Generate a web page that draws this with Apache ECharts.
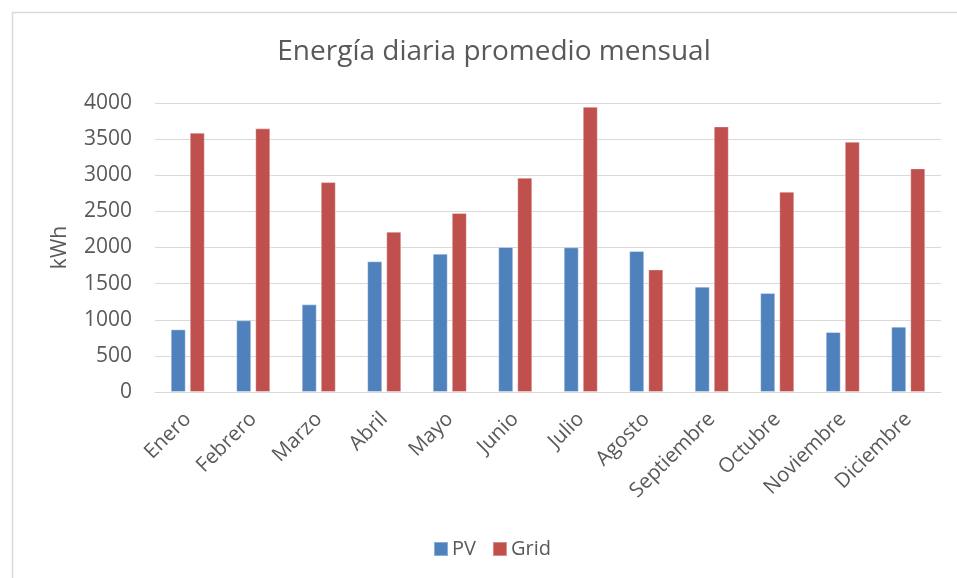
<!DOCTYPE html>
<html>
<head>
<meta charset="utf-8">
<script src="https://cdn.jsdelivr.net/npm/echarts@6/dist/echarts.min.js"></script>
<style>
html,body{margin:0;padding:0;background:#fff;}
#c{width:957px;height:578px;}
</style>
</head>
<body>
<div id="c"></div>
<script>
const categories = ['Enero','Febrero','Marzo','Abril','Mayo','Junio','Julio','Agosto','Septiembre','Octubre','Noviembre','Diciembre'];
const pvValues = [867, 992, 1213, 1808, 1914, 2007, 2002, 1951, 1458, 1370, 830, 904];
const gridValues = [3589, 3649, 2906, 2219, 2477, 2966, 3948, 1697, 3676, 2772, 3464, 3095];
const yTicks = [0, 500, 1000, 1500, 2000, 2500, 3000, 3500, 4000];
const titleText = 'Energía diaria promedio mensual';
const yName = 'kWh';

const FONT = '"Open Sans", "Noto Sans", sans-serif';
const TXT = '#595959';
const chart = echarts.init(document.getElementById('c'), null, {renderer: 'canvas'});
chart.setOption({
  animation: false,
  backgroundColor: '#ffffff',
  graphic: [{
    type: 'rect', left: 10, top: 10, silent: true,
    shape: {width: 1000, height: 1000},
    style: {fill: 'none', stroke: '#d9d9d9', lineWidth: 1.5}
  }],
  title: {
    text: titleText, left: 489, top: 33, textAlign: 'center',
    textStyle: {fontFamily: FONT, fontSize: 28, fontWeight: 'normal', color: TXT}
  },
  legend: {
    data: ['PV', 'Grid'], left: 428, top: 534, icon: 'rect',
    itemWidth: 14, itemHeight: 14, itemGap: 16,
    textStyle: {fontFamily: FONT, fontSize: 20, color: TXT, padding: [0, 0, 0, -1]}
  },
  grid: {left: 155, right: 16, top: 103, bottom: 186},
  xAxis: {
    type: 'category', data: categories,
    axisLine: {lineStyle: {color: '#d9d9d9', width: 1}},
    axisTick: {show: false},
    axisLabel: {rotate: 45, margin: 24, interval: 0, fontFamily: FONT, fontSize: 20.5, color: TXT}
  },
  yAxis: {
    type: 'value', min: yTicks[0], max: yTicks[yTicks.length - 1], interval: 500,
    name: yName, nameLocation: 'middle', nameGap: 84, nameRotate: 90,
    nameTextStyle: {fontFamily: FONT, fontSize: 21, color: TXT},
    axisLine: {show: false}, axisTick: {show: false},
    splitLine: {lineStyle: {color: '#d9d9d9', width: 1}},
    axisLabel: {margin: 23, fontFamily: FONT, fontSize: 21, color: TXT, formatter: v => String(v)}
  },
  series: [
    {name: 'PV', type: 'bar', data: pvValues, barWidth: 15, barGap: '27%',
     itemStyle: {color: '#4F81BD', borderColor: 'rgba(255,255,255,0.35)', borderWidth: 1}},
    {name: 'Grid', type: 'bar', data: gridValues, barWidth: 15,
     itemStyle: {color: '#C0504D', borderColor: 'rgba(255,255,255,0.35)', borderWidth: 1}}
  ]
});
</script>
</body>
</html>
